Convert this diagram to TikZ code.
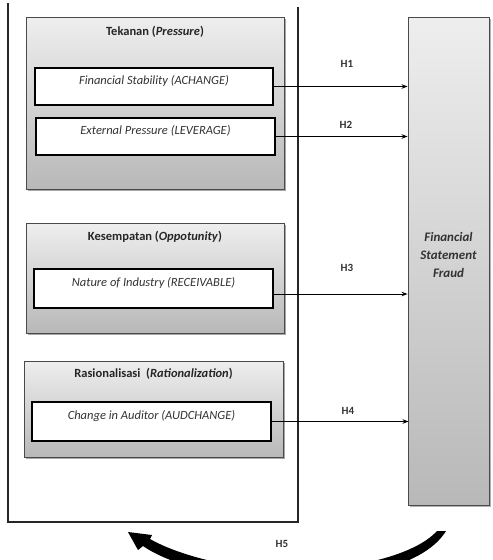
\documentclass[tikz,border=0pt]{standalone}
\usepackage{fontspec}
\setmainfont{Carlito}
\usetikzlibrary{arrows.meta,shadows}
\definecolor{grpTop}{HTML}{EEEEEE}
\definecolor{grpBot}{HTML}{B8B8B8}
\definecolor{grpLine}{HTML}{4A4A4A}
\definecolor{txtGray}{HTML}{333333}
\begin{document}
\begin{tikzpicture}[x=1pt,y=-1pt,
  grpbox/.style={draw=grpLine, line width=0.9pt, top color=grpTop, bottom color=grpBot,
    drop shadow={shadow xshift=1.5pt, shadow yshift=-1.5pt, opacity=0.35, fill=black},
    inner sep=0pt, minimum width=#1},
  innerbox/.style={draw=black, line width=1.2pt, fill=white, inner sep=0pt,
    minimum width=238pt, minimum height=37pt, text height=8pt, text depth=12pt,
    font=\itshape\fontsize{12.5}{14}\selectfont, text=txtGray},
  grptitle/.style={font=\bfseries\fontsize{12.5}{14}\selectfont, text=black!85, inner sep=0pt},
  hlab/.style={font=\bfseries\fontsize{11}{13}\selectfont, text=black!80, inner sep=0pt},
  arr/.style={line width=1pt, -{Stealth[length=6pt,width=4.5pt]}},
]
\useasboundingbox (0,0) rectangle (493,560);
\clip (0,0) rectangle (493,560);

% outer frame (open at top)
\coordinate (frTL) at (8,3);
\coordinate (frTR) at (298,7);
\coordinate (frBL) at (8,522);
\coordinate (frBR) at (298,522);
\draw[line width=1.1pt, black!85] (frTL) -- (frBL) -- (frBR) -- (frTR);

% group boxes
\node[grpbox=258pt, minimum height=172pt] (tek) at (155,103) {};
\node[grpbox=258pt, minimum height=110pt] (kes) at (155,278) {};
\node[grpbox=259pt, minimum height=96pt]  (ras) at (153.5,409) {};

\node[grptitle] (tekT) at (155,32) {Tekanan (\textit{Pressure})};
\node[grptitle] (kesT) at (155,237) {Kesempatan (\textit{Oppotunity})};
\node[grptitle] (rasT) at (153.5,374) {Rasionalisasi\ \ (\textit{Rationalization})};

% inner boxes
\node[innerbox] (fs)  at (154,86.5) {Financial Stability (ACHANGE)};
\node[innerbox, minimum width=239pt] (ep) at (155.5,136.5) {External Pressure (LEVERAGE)};
\node[innerbox, minimum width=239pt, minimum height=39pt] (ni) at (153.5,288.5) {Nature of Industry (RECEIVABLE)};
\node[innerbox, minimum width=239pt, minimum height=39pt] (ca) at (151.5,421.5) {Change in Auditor (AUDCHANGE)};

% target box
\node[draw=grpLine, line width=0.9pt, top color=grpTop, bottom color=grpBot,
  drop shadow={shadow xshift=1.5pt, shadow yshift=-1.5pt, opacity=0.3, fill=black},
  minimum width=81pt, minimum height=488pt, inner sep=0pt] (fsf) at (448.5,261) {};
\node[font=\bfseries\itshape\fontsize{13}{18}\selectfont, text=black!80, align=center, inner sep=0pt]
  (fsfT) at (448.5,255) {Financial\\Statement\\Fraud};

% hypothesis arrows
\draw[arr] (fs.east) -- (fs.east -| fsf.west);
\draw[arr] (ep.east) -- (ep.east -| fsf.west);
\draw[arr] (ni.east |- 0,294) -- (fsf.west |- 0,294);
\draw[arr] (ca.east) -- ([xshift=1pt]ca.east -| fsf.west);

\node[hlab] (h1) at (347,64) {H1};
\node[hlab] (h2) at (346,125) {H2};
\node[hlab] (h3) at (347,268) {H3};
\node[hlab] (h4) at (348,411) {H4};
\node[hlab] (h5) at (282,544) {H5};

% H5 curved arrow (thick, tapered)
\fill[black]
  (437,531) .. controls (415,555) and (355,570) .. (290,570)
  .. controls (235,570) and (180,556) .. (150,539)
  -- (152,535) -- (128,532) -- (138,550) -- (143,546)
  .. controls (172,566) and (230,580) .. (290,580)
  .. controls (360,580) and (425,565) .. (446,531) -- cycle;
\end{tikzpicture}
\end{document}
